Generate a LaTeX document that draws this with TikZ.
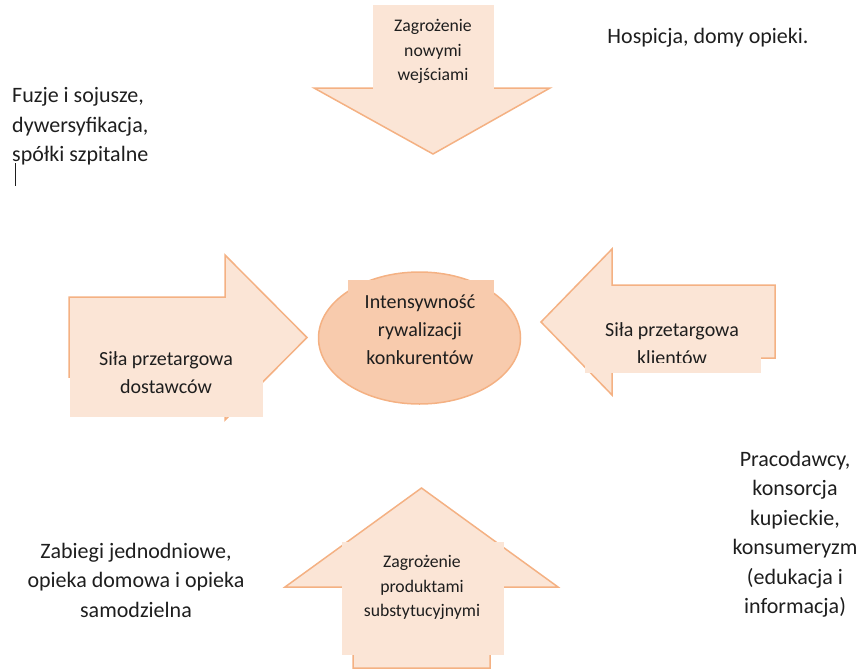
\documentclass[tikz,border=0pt]{standalone}
\usepackage{fontspec}
\setmainfont{Carlito}
\usetikzlibrary{shapes.geometric}
\definecolor{arrfill}{HTML}{FBE5D6}
\definecolor{arrline}{HTML}{F4B183}
\definecolor{ellfill}{HTML}{F8CBAD}
\definecolor{txt}{HTML}{1E1E1E}
\tikzset{
  arrowshape/.style={fill=arrfill, draw=arrline, line width=1.5pt, line join=miter},
  tbox/.style={fill=arrfill, draw=none},
  smalltxt/.style={text=txt, align=center, inner sep=0pt, font=\fontsize{17.7}{24.5}\selectfont},
  midtxt/.style={text=txt, align=center, inner sep=0pt, font=\fontsize{20}{28}\selectfont},
  bigtxt/.style={text=txt, inner sep=0pt, font=\fontsize{22}{29.5}\selectfont},
}
\begin{document}
\begin{tikzpicture}[x=1pt,y=-1pt]
\useasboundingbox (0,0) rectangle (867,669);
% top arrow (down)
\draw[arrowshape] (374,7) -- (492,7) -- (492,88) -- (550,88) -- (433,154) -- (314,88) -- (374,88) -- cycle;
\fill[tbox] (372.5,5.5) rectangle (493.5,95);
\node[smalltxt] (top) at (433,51.5) {Zagrożenie\\nowymi\\wejściami};
% bottom arrow (up)
\draw[arrowshape] (353,668) -- (490,668) -- (490,587) -- (558,587) -- (421.5,488) -- (285,587) -- (353,587) -- cycle;
\fill[tbox] (342,542) rectangle (504,655);
\node[smalltxt] (bottom) at (422,587.5) {Zagrożenie\\produktami\\substytucyjnymi};
% left arrow (right)
\draw[arrowshape] (69,297) -- (225,297) -- (225,255) -- (307,337.5) -- (225,420) -- (225,377) -- (69,377) -- cycle;
\fill[tbox] (70,300) rectangle (263,417);
\node[midtxt] (left) at (166,372.5) {Siła przetargowa\\dostawców};
% right arrow (left)
\draw[arrowshape] (775,285) -- (612,285) -- (612,249) -- (541,322) -- (612,395) -- (612,358) -- (775,358) -- cycle;
\fill[tbox] (585,290) rectangle (761,373);
\begin{scope}
\clip (585,290) rectangle (761,362);
\node[midtxt] (right) at (672,343.5) {Siła przetargowa\\klientów};
\end{scope}
% centre ellipse
\node[ellipse, fill=ellfill, draw=arrline, line width=1.5pt, minimum width=202pt, minimum height=132pt, inner sep=0pt] (centre) at (419.5,338) {};
\fill[ellfill] (348,280) rectangle (494,380);
\node[midtxt] (ctext) at (420,330) {Intensywność\\rywalizacji\\konkurentów};
% outer texts
\node[bigtxt, anchor=center] (hosp) at (708,38) {Hospicja, domy opieki.};
\node[bigtxt, align=left, anchor=west] (fuzje) at (12,126.5) {Fuzje i sojusze,\\dywersyfikacja,\\spółki szpitalne};
\node[bigtxt, align=center] (prac) at (795,534) {Pracodawcy,\\konsorcja\\kupieckie,\\konsumeryzm\\(edukacja i\\informacja)};
\node[bigtxt, align=center] (zab) at (136,580) {Zabiegi jednodniowe,\\opieka domowa i opieka\\samodzielna};
\coordinate (cur1) at (15,163);
\coordinate (cur2) at (15,186);
\draw[txt, line width=0.8pt] (cur1) -- (cur2);
\end{tikzpicture}
\end{document}
